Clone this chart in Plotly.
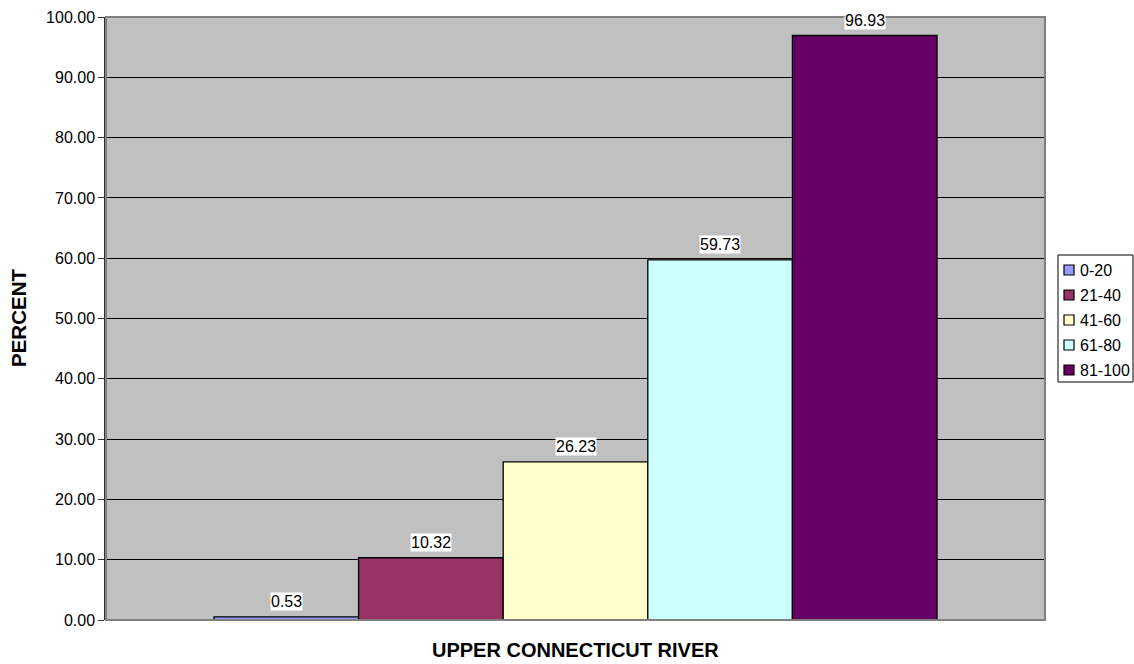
import plotly.graph_objects as go

# Score-class percentages for the Upper Connecticut River
region = "UPPER CONNECTICUT RIVER"
classes = ["0-20", "21-40", "41-60", "61-80", "81-100"]
percent = [0.53, 10.32, 26.23, 59.73, 96.93]
colors = ["#9999FF", "#993366", "#FFFFCC", "#CCFFFF", "#660066"]
y_ticks = [0, 10, 20, 30, 40, 50, 60, 70, 80, 90, 100]

W, H = 1134, 664
ML, MR, MT, MB = 106, 89, 17, 44
PW, PH = W - ML - MR, H - MT - MB
BARGAP = 0.23
FONT = "Liberation Sans, Arial, sans-serif"


def px(x):
    """pixel column -> paper x"""
    return (x - ML) / PW


def py(y):
    """pixel row -> paper y"""
    return (H - MB - y) / PH


fig = go.Figure()
for name, val, col in zip(classes, percent, colors):
    fig.add_trace(go.Bar(
        x=[0], y=[val], name=name,
        marker=dict(color=col, line=dict(color="black", width=1.3)),
    ))

# value labels in white boxes centred over each bar
n = len(classes)
group_w = 1 - BARGAP
annotations = []
for i, val in enumerate(percent):
    xc = -group_w / 2 + (i + 0.5) * group_w / n
    annotations.append(dict(
        x=xc, y=val, xref="x", yref="y", text=f"{val:.2f}",
        showarrow=False, yanchor="bottom", yshift=6,
        bgcolor="white", borderpad=0,
        font=dict(family=FONT, size=16, color="black"),
    ))

# axis titles
annotations.append(dict(
    x=0.5, y=py(650), xref="paper", yref="paper", text="<b>" + region + "</b>",
    showarrow=False, xanchor="center", yanchor="middle",
    font=dict(family=FONT, size=20, color="black"),
))
annotations.append(dict(
    x=px(19), y=py(318), xref="paper", yref="paper", text="<b>PERCENT</b>",
    showarrow=False, xanchor="center", yanchor="middle", textangle=-90,
    font=dict(family=FONT, size=20.5, color="black"),
))

# legend: framed box with small swatches and labels
shapes = [
    dict(type="rect", xref="paper", yref="paper",
         x0=px(1058), x1=px(1133), y0=py(382), y1=py(255),
         line=dict(color="black", width=1), fillcolor="white", layer="above"),
]
for i, (name, col) in enumerate(zip(classes, colors)):
    yc = 270 + 25 * i
    shapes.append(dict(
        type="rect", xref="paper", yref="paper",
        x0=px(1064), x1=px(1074), y0=py(yc + 5), y1=py(yc - 5),
        line=dict(color="black", width=1.2), fillcolor=col, layer="above",
    ))
    annotations.append(dict(
        x=px(1078), y=py(yc), xref="paper", yref="paper", text=name,
        showarrow=False, xanchor="left", yanchor="middle",
        font=dict(family=FONT, size=16, color="black"),
    ))

# plot-area frame
shapes.append(dict(
    type="rect", xref="paper", yref="paper", x0=0, y0=0, x1=1, y1=1,
    line=dict(color="#808080", width=2), layer="above",
))

fig.update_layout(
    width=W, height=H,
    margin=dict(l=ML, r=MR, t=MT, b=MB, autoexpand=False),
    paper_bgcolor="white", plot_bgcolor="#C0C0C0",
    barmode="group", bargap=BARGAP, bargroupgap=0,
    font=dict(family=FONT, size=16, color="black"),
    annotations=annotations, shapes=shapes,
    showlegend=False,
)

fig.update_xaxes(
    type="linear", range=[-0.5, 0.5], showticklabels=False, showgrid=False,
    zeroline=False, ticks="", showline=False, fixedrange=True,
)
fig.update_yaxes(
    range=[0, 100], tickvals=y_ticks, tickformat=".2f",
    ticks="outside", ticklen=6, tickcolor="#333333",
    tickfont=dict(family=FONT, size=16, color="black"),
    showgrid=True, gridcolor="black", gridwidth=1,
    showline=True, linecolor="#333333", linewidth=1.5,
    zeroline=False, fixedrange=True,
)

fig.write_html("out.html")
